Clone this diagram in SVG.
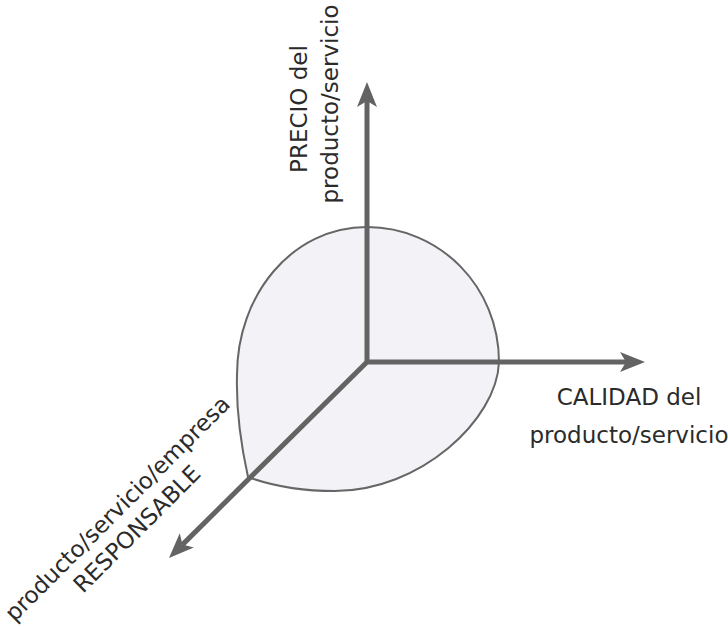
<svg xmlns="http://www.w3.org/2000/svg" width="728" height="627" viewBox="0 0 728 627">
  <style>
    .lbl { font-family: "DejaVu Sans", "Liberation Sans", sans-serif; font-size: 23px; fill: #2b2b2b; text-anchor: middle; }
    .axis { stroke: #636363; stroke-width: 5; fill: none; marker-end: url(#arrow); }
    .blob { fill: #f2f2f7; stroke: #666666; stroke-width: 2; }
  </style>
  <defs>
    <marker id="arrow" markerUnits="userSpaceOnUse" markerWidth="40" markerHeight="40" refX="0" refY="0" viewBox="-10 -20 40 40" orient="auto" overflow="visible">
      <path d="M19,0 L-6,-10 L0,0 L-6,10 Z" fill="#636363"/>
    </marker>
  </defs>
  <g id="area">
    <path class="blob" d="M248,477 C241,445 236,410 237,375 C237,295 292,227 367,227 C440,227 499,287 499,362 C497,420 420,491 335,491 C300,491 270,485 248,477 Z"/>
  </g>
  <g id="connectors">
    <line class="axis" x1="367" y1="364" x2="367" y2="101"/>
    <line class="axis" x1="365" y1="362" x2="626" y2="362"/>
    <line class="axis" x1="367" y1="362" x2="182.5" y2="544.6"/>
  </g>
  <g id="precio">
    <text class="lbl" transform="translate(307,109) rotate(-90)">PRECIO del</text>
    <text class="lbl" transform="translate(338,104) rotate(-90)">producto/servicio</text>
  </g>
  <g id="calidad">
    <text class="lbl" x="629" y="405">CALIDAD del</text>
    <text class="lbl" x="629" y="443">producto/servicio</text>
  </g>
  <g id="responsable">
    <text class="lbl" transform="translate(123,514) rotate(-45)">producto/servicio/empresa</text>
    <text class="lbl" transform="translate(142.5,534.5) rotate(-45)">RESPONSABLE</text>
  </g>
</svg>
